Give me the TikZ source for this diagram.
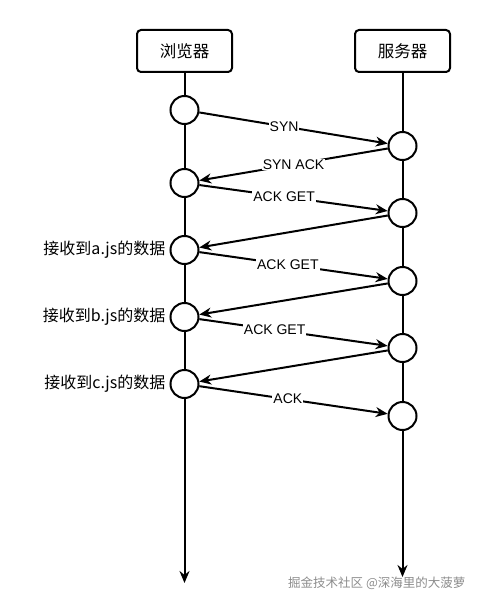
\documentclass[tikz,border=0pt]{standalone}
\usepackage{fontspec}
\setmainfont{Liberation Sans}
\newfontfamily\cjk{Noto Sans CJK SC}
\usetikzlibrary{arrows.meta,positioning}
\tikzset{%
   actor/.style={draw, rounded corners=4pt, line width=2pt, minimum width=95pt, minimum height=42pt, inner sep=0pt, font=\cjk\fontsize{16.5}{18}\selectfont},
   evt/.style={circle, draw, line width=2pt, minimum size=28pt, inner sep=0pt, fill=white},
   life/.style={line width=2pt, -{Stealth[length=12pt, width=10pt]}},
   msg/.style={line width=2pt, -{Stealth[length=12pt, width=10pt]}},
   lbl/.style={fill=white, inner sep=1pt, font=\fontsize{14}{16}\selectfont},
   side/.style={font=\cjk\fontsize{16}{18}\selectfont, inner sep=0pt},
}

\begin{document}
\begin{tikzpicture}[x=1pt, y=-1pt]
   \useasboundingbox (0,0) rectangle (496,607);
   % participants
   \node[actor] (br) at (184.5,51) {浏览器};
   \node[actor] (sv) at (402.5,51) {服务器};
   \coordinate (brend) at (184.5,583);
   \coordinate (svend) at (402.5,577);
   \draw[life] (br.south) -- (brend);
   \draw[life] (sv.south) -- (svend);
   % events
   \foreach \y [count=\i from 0] in {110,183,250,317,384}
      \node[evt] (b\i) at (184.5,\y) {};
   \foreach \y [count=\i from 0] in {146,213,281,348,416}
      \node[evt] (s\i) at (402.5,\y) {};
   \node[side, left=4pt of b2] (la) {接收到a.js的数据};
   \node[side, left=4pt of b3] (lb) {接收到b.js的数据};
   \node[side, left=4pt of b4] (lc) {接收到c.js的数据};
   % messages
   \draw[msg] (b0) -- (s0) node[lbl, pos=.45] {SYN};
   \draw[msg] (s0) -- (b1) node[lbl, pos=.5] {SYN ACK};
   \draw[msg] (b1) -- (s1) node[lbl, pos=.45] {ACK GET};
   \draw[msg] (s1) -- (b2);
   \draw[msg] (b2) -- (s2) node[lbl, pos=.47] {ACK GET};
   \draw[msg] (s2) -- (b3);
   \draw[msg] (b3) -- (s3) node[lbl, pos=.4] {ACK GET};
   \draw[msg] (s3) -- (b4);
   \draw[msg] (b4) -- (s4) node[lbl, pos=.47] {ACK};
   \node[anchor=west, text=black!45, font=\cjk\fontsize{12.5}{14}\selectfont, inner sep=0pt] (mark) at (288,583) {掘金技术社区 @深海里的大菠萝};
\end{tikzpicture}
\end{document}
